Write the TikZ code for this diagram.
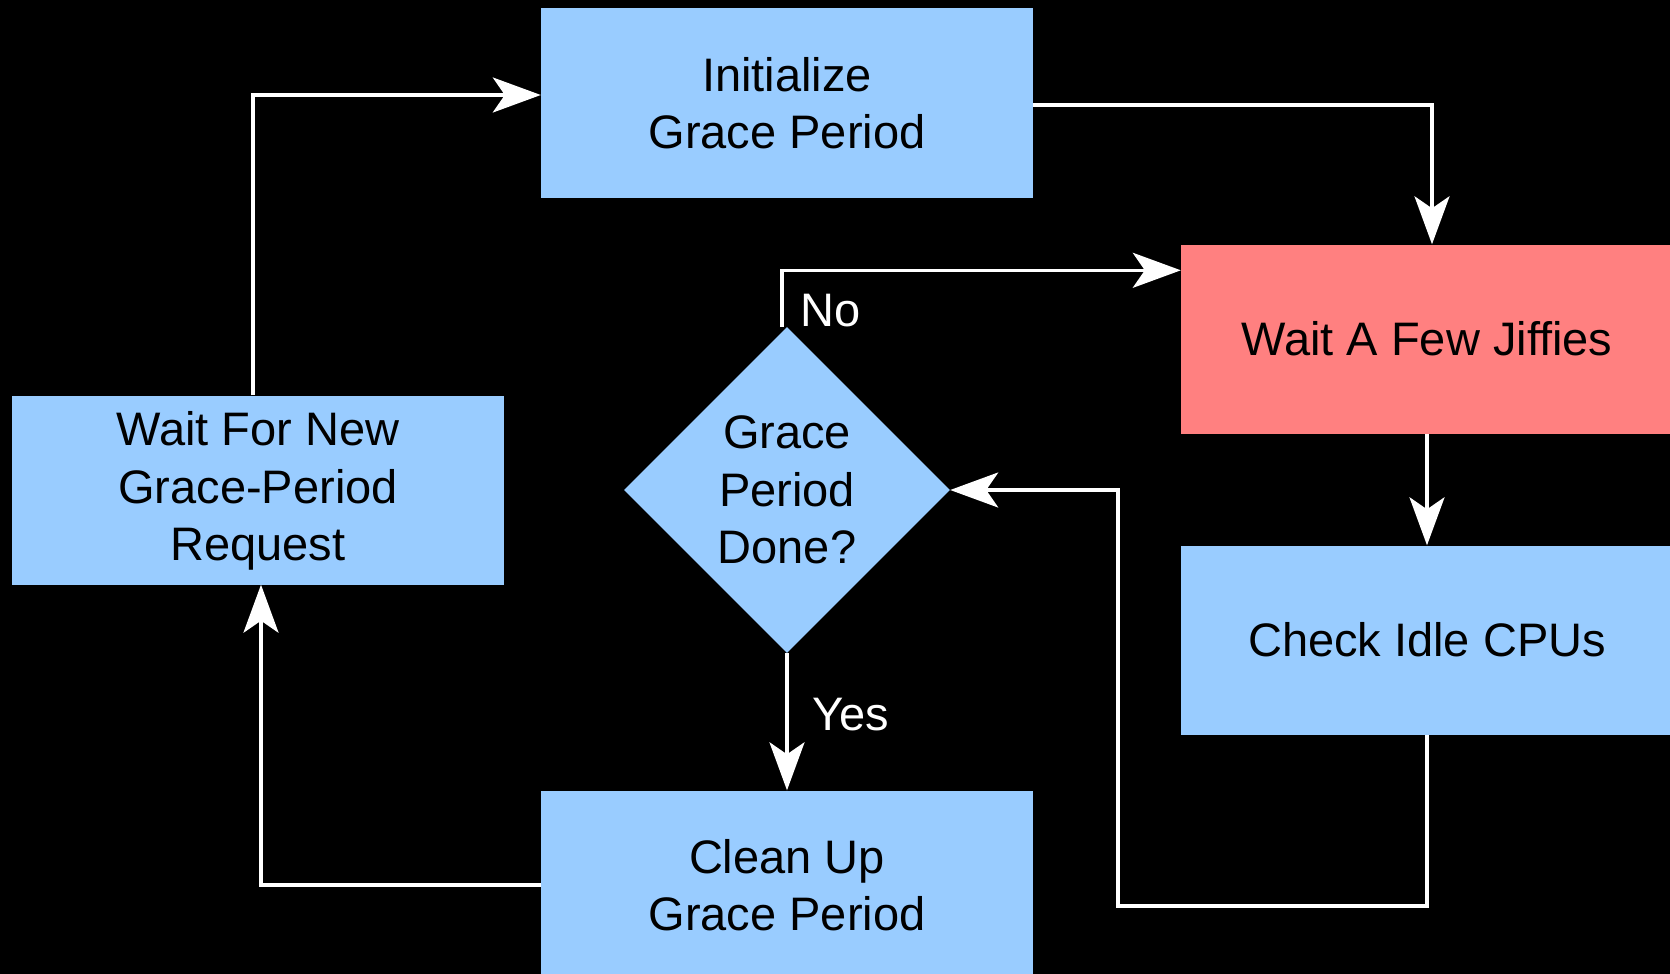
\documentclass[tikz,border=0pt]{standalone}
\usepackage{fontspec}
\setmainfont{Liberation Sans}
\usetikzlibrary{shapes.geometric,arrows.meta}

\definecolor{boxblue}{RGB}{153,204,255}
\definecolor{boxred}{RGB}{255,128,128}

\tikzset{
  stepbox/.style={rectangle, fill=boxblue, minimum width=492pt, minimum height=189pt,
    inner sep=0pt, align=center, font=\fontsize{47}{57.5}\selectfont},
  decision/.style={diamond, fill=boxblue, minimum width=326pt, minimum height=326pt,
    aspect=1, inner sep=0pt, align=center, font=\fontsize{47}{57.5}\selectfont},
  flow/.style={draw=white, line width=3.5pt, -{Stealth[length=48pt,width=35pt,inset=12pt]}},
  tag/.style={text=white, font=\fontsize{47}{57.5}\selectfont}
}

\begin{document}
\begin{tikzpicture}[x=1pt,y=-1pt]
  % background
  \fill[black] (0,0) rectangle (1670,974);
  \useasboundingbox (0,0) rectangle (1670,974);

  %% boxes
  \node[stepbox] (init) at (787,103) {Initialize\\Grace Period};
  \node[stepbox, fill=boxred] (jiffies) at (1427,339) {Wait A Few Jiffies};
  \node[stepbox] (check) at (1427,640) {Check Idle CPUs};
  \node[stepbox] (clean) at (787,885) {Clean Up\\Grace Period};
  \node[stepbox, text depth=8pt] (waitreq) at (258,490) {Wait For New\\Grace-Period\\Request};
  \node[decision] (done) at (787,490) {Grace\\Period\\Done?};

  % labels
  \node[tag] (nolabel) at (831,311) {No};
  \node[tag] (yeslabel) at (851,715) {Yes};
  \coordinate (loop) at (1118,906);

  %% connectors
  \draw[flow] ([yshift=-2pt]init.east) -| ([xshift=5pt]jiffies.north);
  \draw[flow] ([xshift=-5pt]done.north) |- ([yshift=-26pt]jiffies.north west);
  \draw[flow] (jiffies.south) -- (check.south |- check.north);
  \draw[flow] (check.south) |- (loop) |- (done.east);
  \draw[flow] (done.south) -- (clean.north);
  \draw[flow] (clean.west) -| ([xshift=3pt]waitreq.south);
  \draw[flow] ([xshift=-5pt]waitreq.north) |- ([yshift=8pt]init.west);
\end{tikzpicture}
\end{document}
